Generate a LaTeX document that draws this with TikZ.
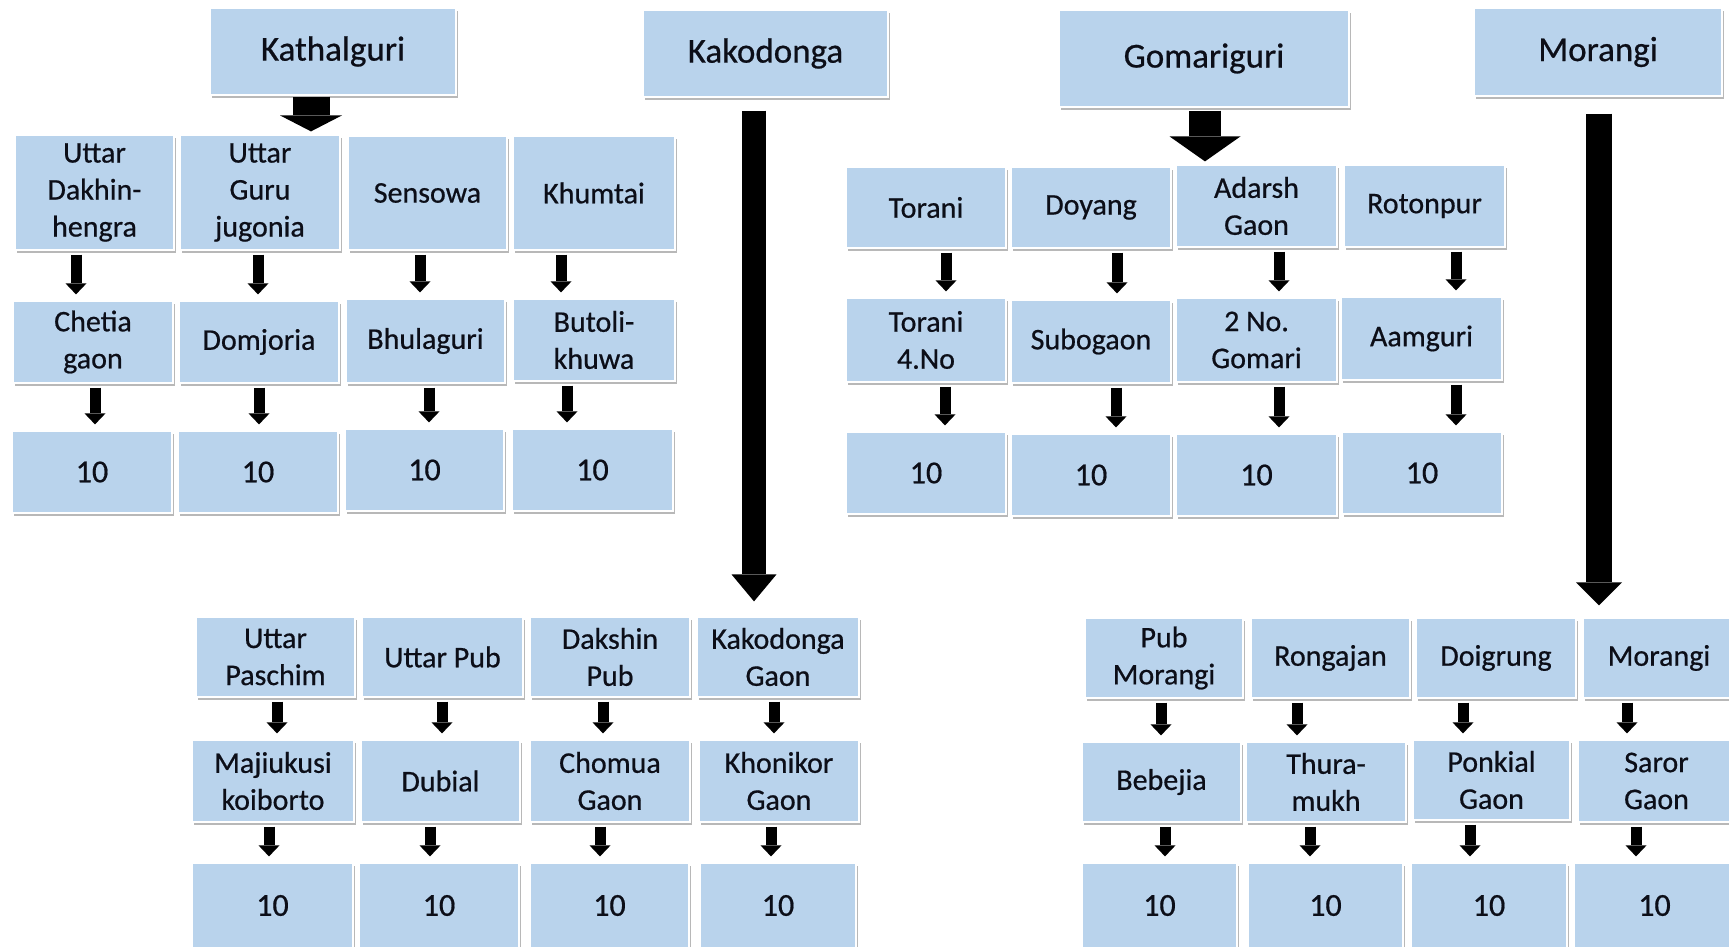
\documentclass[tikz,border=0pt]{standalone}
\usepackage{fontspec}
\setmainfont{Carlito}[FakeBold=0.6]
\usetikzlibrary{arrows.meta,shadows}
\definecolor{boxblue}{RGB}{185,211,236}
\definecolor{txtc}{RGB}{12,14,24}
\newcommand\pbox[7]{%
  \pgfmathsetmacro\pbcx{(#2+#4)/2}%
  \pgfmathsetmacro\pbcy{(#3+#5)/2}%
  \pgfmathsetmacro\pbw{(#4-#2)*0.5}%
  \pgfmathsetmacro\pbh{(#5-#3)*0.5}%
  \node[#6, minimum width=\pbw pt, minimum height=\pbh pt] (#1) at (\pbcx,\pbcy) {#7};}
\tikzset{
  cell/.style={fill=boxblue, draw=white, line width=0.6pt, inner sep=0pt, align=center, text=txtc,
    drop shadow={shadow xshift=1.2pt, shadow yshift=-1.5pt, opacity=0.28, fill=black}},
  topbox/.style={cell, font=\fontsize{17.5}{20}\selectfont},
  lbl/.style={cell, font=\fontsize{15}{18.5}\selectfont},
  num/.style={cell, font=\fontsize{16}{18}\selectfont},
  smarr/.style={black, line width=5.5pt, -{Triangle[width=10.5pt,length=5.5pt,line width=0pt]},
    shorten <=2pt, shorten >=3pt},
}
\begin{document}
\begin{tikzpicture}[x=0.5pt,y=-0.5pt]
\useasboundingbox (0,0) rectangle (1729,947);
% top boxes
\pbox{K}{210}{8}{456}{95}{topbox}{Kathalguri}
\pbox{KD}{643}{10}{888}{97}{topbox}{Kakodonga}
\pbox{G}{1059}{10}{1349}{107}{topbox}{Gomariguri}
\pbox{M}{1474}{8}{1722}{96}{topbox}{Morangi}
% left group
\pbox{L1a}{15}{135}{174}{250}{lbl}{Uttar\\Dakhin-\\hengra}
\pbox{L1b}{180}{135}{340}{250}{lbl}{Uttar\\Guru\\jugonia}
\pbox{L1c}{348}{136}{507}{250}{lbl}{Sensowa}
\pbox{L1d}{513}{136}{675}{250}{lbl}{Khumtai}
\pbox{L2a}{13}{301}{173}{383}{lbl}{Chetia\\gaon}
\pbox{L2b}{179}{301}{339}{383}{lbl}{Domjoria}
\pbox{L2c}{346}{299}{505}{383}{lbl}{Bhulaguri}
\pbox{L2d}{513}{299}{675}{381}{lbl}{Butoli-\\khuwa}
\pbox{L3a}{12}{431}{172}{513}{num}{10}
\pbox{L3b}{178}{431}{338}{513}{num}{10}
\pbox{L3c}{345}{429}{504}{511}{num}{10}
\pbox{L3d}{512}{429}{673}{511}{num}{10}
% right group
\pbox{R1a}{846}{167}{1006}{248}{lbl}{Torani}
\pbox{R1b}{1011}{167}{1171}{248}{lbl}{Doyang}
\pbox{R1c}{1176}{165}{1337}{247}{lbl}{Adarsh\\Gaon}
\pbox{R1d}{1344}{165}{1505}{247}{lbl}{Rotonpur}
\pbox{R2a}{846}{298}{1006}{382}{lbl}{Torani\\4.No}
\pbox{R2b}{1011}{300}{1171}{383}{lbl}{Subogaon}
\pbox{R2c}{1176}{298}{1337}{382}{lbl}{2 No.\\Gomari}
\pbox{R2d}{1341}{297}{1502}{380}{lbl}{Aamguri}
\pbox{R3a}{846}{432}{1006}{514}{num}{10}
\pbox{R3b}{1011}{434}{1171}{516}{num}{10}
\pbox{R3c}{1176}{434}{1337}{516}{num}{10}
\pbox{R3d}{1342}{432}{1502}{514}{num}{10}
% bottom left group
\pbox{B1a}{196}{617}{355}{697}{lbl}{Uttar\\Paschim}
\pbox{B1b}{362}{617}{523}{697}{lbl}{Uttar Pub}
\pbox{B1c}{530}{617}{690}{697}{lbl}{Dakshin\\Pub}
\pbox{B1d}{697}{617}{859}{697}{lbl}{Kakodonga\\Gaon}
\pbox{B2a}{192}{740}{354}{822}{lbl}{Majiukusi\\koiborto}
\pbox{B2b}{361}{740}{520}{822}{lbl}{Dubial}
\pbox{B2c}{530}{740}{690}{822}{lbl}{Chomua\\Gaon}
\pbox{B2d}{699}{740}{859}{822}{lbl}{Khonikor\\Gaon}
\pbox{B3a}{192}{863}{353}{948}{num}{10}
\pbox{B3b}{359}{863}{519}{948}{num}{10}
\pbox{B3c}{530}{863}{689}{948}{num}{10}
\pbox{B3d}{700}{863}{856}{948}{num}{10}
% bottom right group
\pbox{C1a}{1085}{618}{1243}{698}{lbl}{Pub\\Morangi}
\pbox{C1b}{1251}{618}{1410}{698}{lbl}{Rongajan}
\pbox{C1c}{1416}{618}{1576}{698}{lbl}{Doigrung}
\pbox{C1d}{1583}{618}{1735}{698}{lbl}{Morangi}
\pbox{C2a}{1082}{742}{1241}{822}{lbl}{Bebejia}
\pbox{C2b}{1246}{742}{1406}{822}{lbl}{Thura-\\mukh}
\pbox{C2c}{1413}{740}{1570}{820}{lbl}{Ponkial\\Gaon}
\pbox{C2d}{1578}{740}{1735}{822}{lbl}{Saror\\Gaon}
\pbox{C3a}{1082}{863}{1237}{948}{num}{10}
\pbox{C3b}{1248}{863}{1403}{948}{num}{10}
\pbox{C3c}{1411}{863}{1567}{948}{num}{10}
\pbox{C3d}{1574}{863}{1735}{948}{num}{10}
% big arrows
\draw[black, line width=18.5pt, -{Triangle[width=31pt,length=8pt,line width=0pt]}, shorten <=0.5pt, shorten >=1.5pt]
  (K.south -| 311,0) -- (L1b.north -| 311,0);
\draw[black, line width=16pt, -{Triangle[width=35.5pt,length=12.5pt,line width=0pt]}, shorten <=1.5pt, shorten >=1.5pt]
  (G.south -| 1205,0) -- (R1c.north -| 1205,0);
\draw[black, line width=12pt, -{Triangle[width=22.5pt,length=13.5pt,line width=0pt]}, shorten <=6.5pt, shorten >=7.5pt]
  (KD.south -| 754,0) -- (B1d.north -| 754,0);
\draw[black, line width=13pt, -{Triangle[width=23pt,length=11.5pt,line width=0pt]}, shorten <=8.5pt, shorten >=6pt]
  (M.south -| 1599,0) -- (C1d.north -| 1599,0);
% small arrows
\foreach \s/\t/\x in {L1a/L2a/76, L1b/L2b/258, L1c/L2c/420, L1d/L2d/561,
                      L2a/L3a/95, L2b/L3b/259, L2c/L3c/429, L2d/L3d/567,
                      R1a/R2a/946, R1b/R2b/1117, R1c/R2c/1279, R1d/R2d/1456,
                      R2a/R3a/945, R2b/R3b/1116, R2c/R3c/1279, R2d/R3d/1456,
                      B1a/B2a/277, B1b/B2b/442, B1c/B2c/603, B1d/B2d/774,
                      B2a/B3a/269, B2b/B3b/430, B2c/B3c/600, B2d/B3d/771,
                      C1a/C2a/1161, C1b/C2b/1297, C1c/C2c/1463, C1d/C2d/1627,
                      C2a/C3a/1165, C2b/C3b/1310, C2c/C3c/1470, C2d/C3d/1636}
  \draw[smarr] (\s.south -| \x,0) -- (\t.north -| \x,0);
\end{tikzpicture}
\end{document}
